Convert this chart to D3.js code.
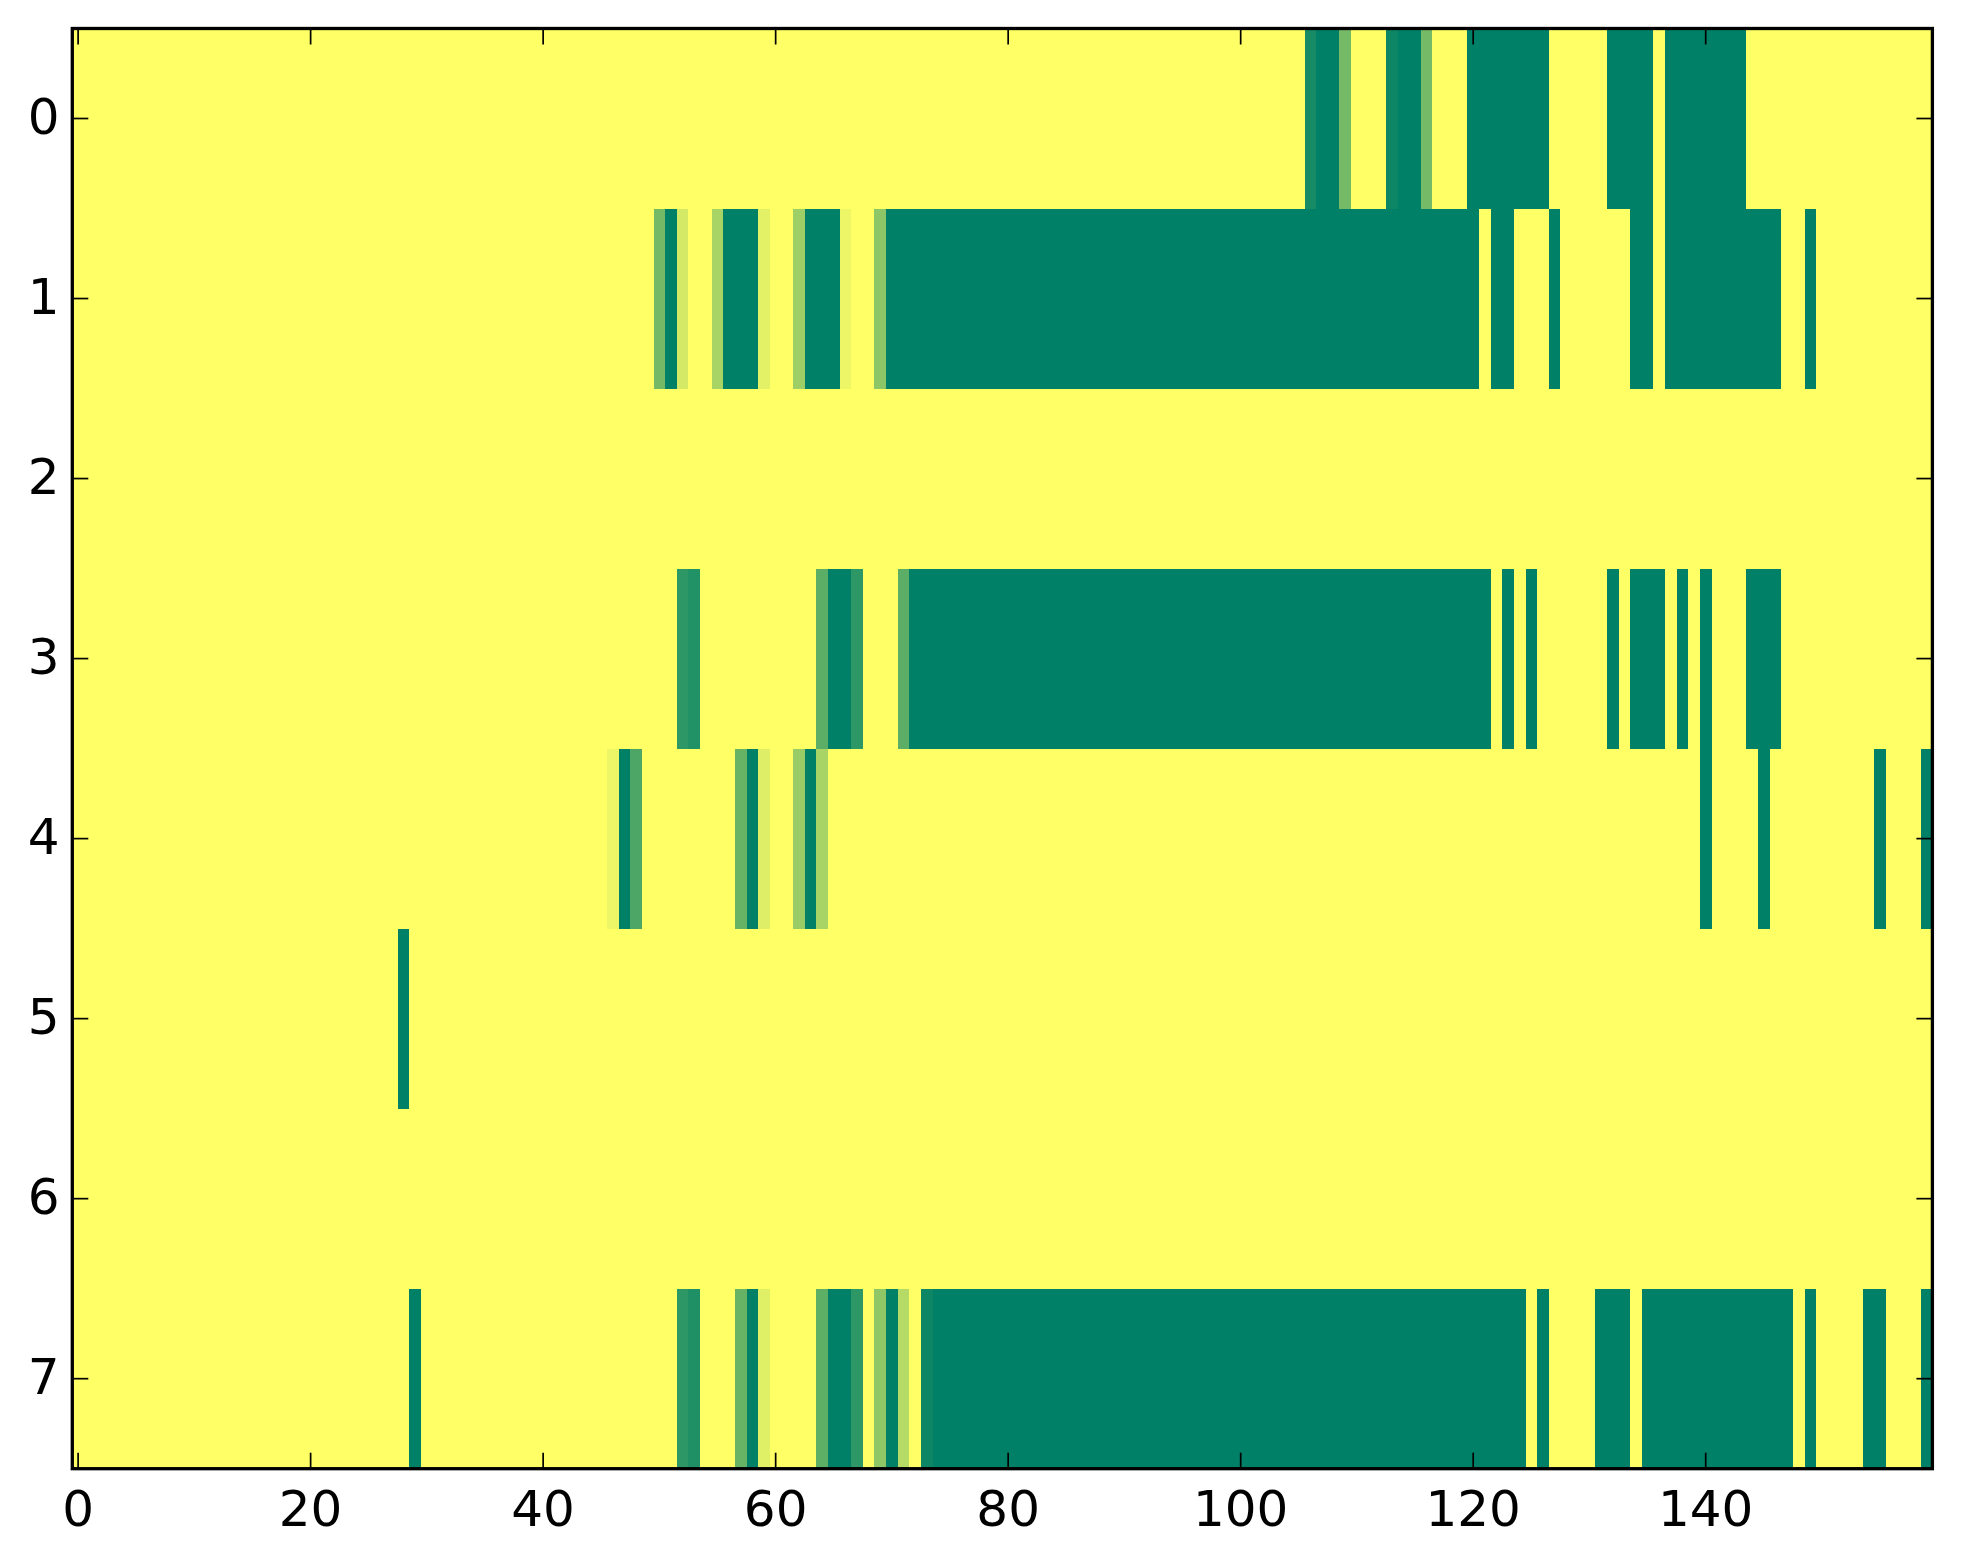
<!DOCTYPE html>
<html>
<head>
<meta charset="utf-8">
<script src="https://cdn.jsdelivr.net/npm/d3@7"></script>
<style>
  body { margin: 0; background: #fff; }
  text { font-family: "DejaVu Sans", sans-serif; fill: #000; }
</style>
</head>
<body>
<div id="chart"></div>
<script>
// Grid size
const nCols = 160;
const rowLabels = [0, 1, 2, 3, 4, 5, 6, 7];
const xTicks = [0, 20, 40, 60, 80, 100, 120, 140];

// Non-zero cells per row as [firstCol, lastCol, value]; every other cell is 0
const row0 = [[106,106,0.91],[107,108,1],[109,109,0.54],[113,113,0.95],[114,115,1],[116,116,0.54],
              [120,126,1],[132,135,1],[137,143,1]];
const row1 = [[50,50,0.55],[51,51,1],[52,52,0.17],[55,55,0.34],[56,58,1],[59,59,0.11],[62,62,0.38],
              [63,65,1],[66,66,0.07],[69,69,0.45],[70,120,1],[122,123,1],[127,127,1],[134,135,1],
              [137,146,1],[149,149,1]];
const row2 = [];
const row3 = [[52,52,0.82],[53,53,0.87],[64,64,0.64],[65,66,1],[67,67,0.82],[71,71,0.64],[72,121,1],
              [123,123,1],[125,125,1],[132,132,1],[134,136,1],[138,138,1],[140,140,1],[144,146,1]];
const row4 = [[46,46,0.07],[47,47,1],[48,48,0.7],[57,57,0.6],[58,58,1],[59,59,0.13],[62,62,0.4],
              [63,63,1],[64,64,0.34],[140,140,1],[145,145,1],[155,155,1],[159,159,1]];
const row5 = [[28,28,1]];
const row6 = [];
const row7 = [[29,29,1],[52,52,0.82],[53,53,0.88],[57,57,0.6],[58,58,1],[59,59,0.12],[64,64,0.63],
              [65,66,1],[67,67,0.82],[69,69,0.44],[70,70,1],[71,71,0.29],[73,73,0.95],[74,124,1],
              [126,126,1],[131,133,1],[135,147,1],[149,149,1],[154,155,1],[159,159,1]];
const rows = [row0, row1, row2, row3, row4, row5, row6, row7];

// Build the full cell table
const cells = [];
rows.forEach((runs, r) => {
    const vals = new Array(nCols).fill(0);
    runs.forEach(([a, b, v]) => { for (let c = a; c <= b; c++) vals[c] = v; });
    vals.forEach((v, c) => cells.push({ row: r, col: c, value: v }));
});

const W = 1963, H = 1564;
const plotLeft = 72.3, plotRight = 1932.4, plotTop = 28.5, plotBottom = 1468.7;

const svg = d3.select('#chart').append('svg')
    .attr('width', W)
    .attr('height', H);

svg.append('rect').attr('width', W).attr('height', H).attr('fill', '#fff');

const x = d3.scaleLinear().domain([-0.5, nCols - 0.5]).range([plotLeft, plotRight]);
const y = d3.scaleLinear().domain([-0.5, rowLabels.length - 0.5]).range([plotTop, plotBottom]);

// summer_r colormap: 0 -> yellow, 1 -> green
const color = d3.scaleLinear().domain([0, 1]).range(['#ffff66', '#008066']);

svg.append('g')
    .selectAll('rect')
    .data(cells)
    .join('rect')
    .attr('x', d => x(d.col - 0.5))
    .attr('y', d => y(d.row - 0.5))
    .attr('width', x(1) - x(0) + 0.4)
    .attr('height', y(1) - y(0) + 0.4)
    .attr('fill', d => color(d.value))
    .attr('shape-rendering', 'crispEdges');

// Ticks, inward on all four sides
const tickLen = 16;
const ticks = svg.append('g').attr('stroke', '#000').attr('stroke-width', 1.7);
xTicks.forEach(t => {
    ticks.append('line').attr('x1', x(t)).attr('x2', x(t)).attr('y1', plotBottom).attr('y2', plotBottom - tickLen);
    ticks.append('line').attr('x1', x(t)).attr('x2', x(t)).attr('y1', plotTop).attr('y2', plotTop + tickLen);
});
rowLabels.forEach(t => {
    ticks.append('line').attr('y1', y(t)).attr('y2', y(t)).attr('x1', plotLeft).attr('x2', plotLeft + tickLen);
    ticks.append('line').attr('y1', y(t)).attr('y2', y(t)).attr('x1', plotRight).attr('x2', plotRight - tickLen);
});

// Tick labels
svg.append('g').selectAll('text')
    .data(xTicks)
    .join('text')
    .attr('x', d => x(d))
    .attr('y', 1526)
    .attr('text-anchor', 'middle')
    .style('font-size', '50px')
    .text(d => d);

svg.append('g').selectAll('text')
    .data(rowLabels)
    .join('text')
    .attr('x', 59.5)
    .attr('y', d => y(d) + 15.5)
    .attr('text-anchor', 'end')
    .style('font-size', '50px')
    .text(d => d);

// Frame
svg.append('rect')
    .attr('x', plotLeft)
    .attr('y', plotTop)
    .attr('width', plotRight - plotLeft)
    .attr('height', plotBottom - plotTop)
    .attr('fill', 'none')
    .attr('stroke', '#000')
    .attr('stroke-width', 3.3);
</script>
</body>
</html>
